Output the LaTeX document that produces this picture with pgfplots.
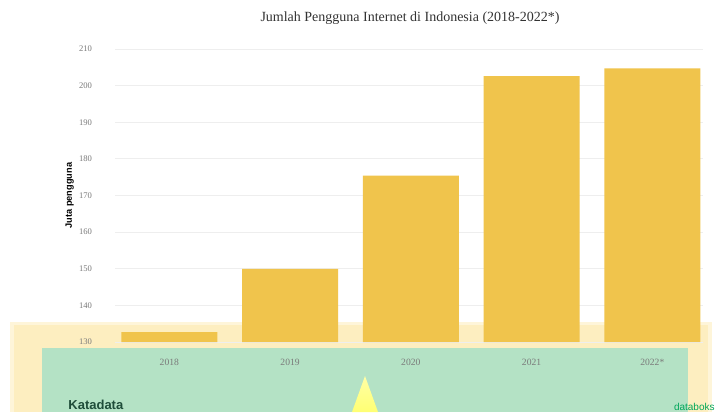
\documentclass[border=0pt]{standalone}
\usepackage{pgfplots}
\pgfplotsset{compat=1.18}
\usepackage{fontspec}
\setmainfont{Liberation Serif}
\setsansfont{Liberation Sans}
\definecolor{barc}{HTML}{F0C44C}
\definecolor{bandy}{HTML}{FDEEC0}
\definecolor{bandg}{HTML}{B4E2C5}
\definecolor{tickc}{HTML}{7A7A7A}
\definecolor{gridc}{HTML}{EEEEEE}
\definecolor{kata}{HTML}{1F4D3A}
\begin{document}
\begin{tikzpicture}[x=1pt,y=1pt]
\useasboundingbox[fill=white] (0,0) rectangle (358,206);
% decorative bands (px*0.5, (412-py)*0.5)
\fill[bandy!60] (5,0) rectangle (356,45);
\fill[bandy] (7,0) rectangle (354,43.5);
\fill[bandg] (21,0) rectangle (344,32);
\shade[top color=yellow!35, bottom color=yellow!55!white] (182.5,18) -- (176,0) -- (189,0) -- cycle;
\node[anchor=west, font=\sffamily\bfseries\fontsize{6.5}{7}\selectfont, text=kata, inner sep=0] at (34,3.5) {Katadata};
\node[anchor=east, font=\sffamily\fontsize{5}{6}\selectfont, text=teal!70!green, inner sep=0] at (357.5,2.5) {databoks};
\node[font=\fontsize{7}{8}\selectfont, text=black!80] at (205,197) {Jumlah Pengguna Internet di Indonesia (2018-2022*)};
\begin{axis}[
  at={(57.5pt,35pt)}, anchor=south west,
  scale only axis,
  width=294pt, height=146.5pt,
  xmin=-0.45, xmax=4.42,
  ymin=130, ymax=210,
  ytick={130,140,...,210},
  xtick={0,1,2,3,4},
  xticklabels={2018,2019,2020,2021,2022*},
  axis line style={draw=none},
  major tick length=0pt,
  ymajorgrids, grid style={gridc, line width=0.5pt},
  /pgf/number format/assume math mode=true,
  tick label style={text=tickc},
  yticklabel style={font=\fontsize{4.3}{5}\selectfont, xshift=-8pt},
  xticklabel style={font=\fontsize{4.8}{5}\selectfont, yshift=-5pt},
  ylabel={Juta pengguna},
  ylabel style={font=\sffamily\bfseries\fontsize{4.6}{5}\selectfont, at={(axis description cs:-0.077,0.5)}, anchor=center},
  bar width=48pt,
  clip=false,
]
\addplot[ybar, fill=barc, draw=none, bar shift=0pt] coordinates {(0,132.7) (1,150.0) (2,175.4) (3,202.6) (4,204.7)};
\end{axis}
\end{tikzpicture}
\end{document}
